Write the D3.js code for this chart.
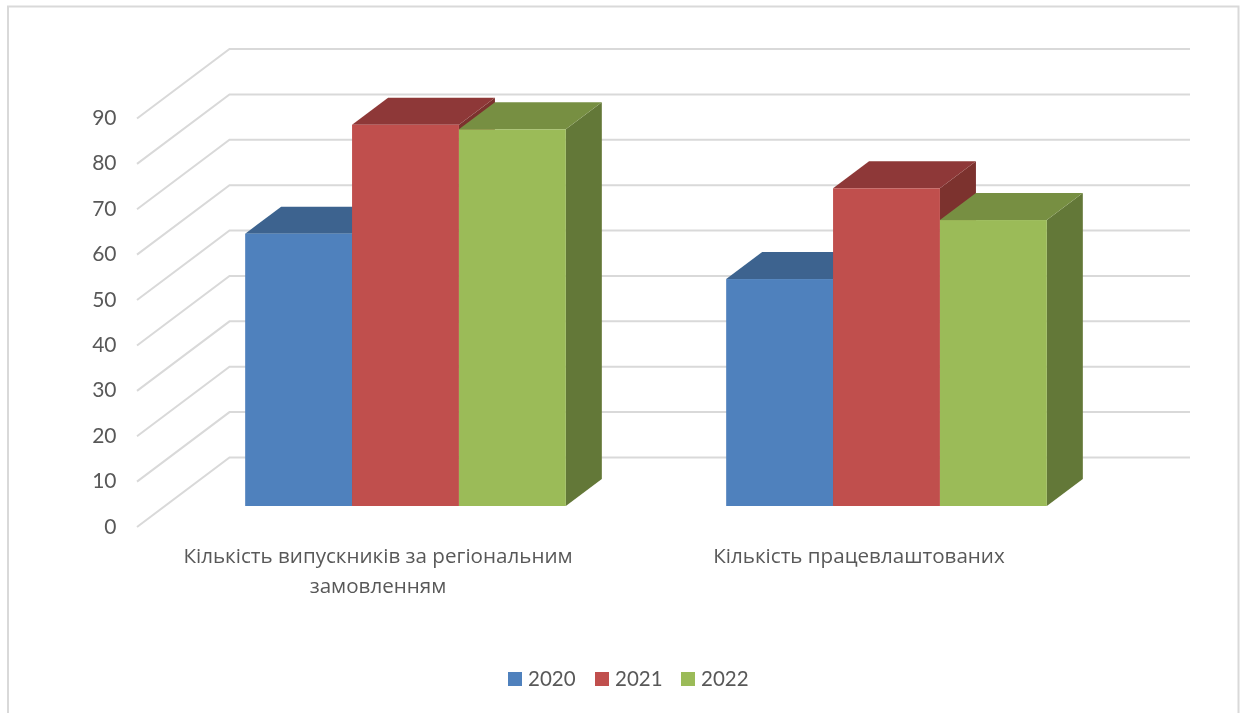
<!DOCTYPE html>
<html>
<head>
<meta charset="utf-8">
<script src="https://cdn.jsdelivr.net/npm/d3@7"></script>
<style>
  html, body { margin: 0; background: #fff; }
  text { font-family: Lato, "Open Sans", sans-serif; fill: #595959; }
  text.cat { font-family: "Open Sans", sans-serif; }
</style>
</head>
<body>
<svg id="chart" width="1240" height="713"></svg>
<script>
const categories = [
  ["Кількість випускників за регіональним", "замовленням"],
  ["Кількість працевлаштованих"]
];
const seriesNames = ["2020", "2021", "2022"];
const values2020 = [60, 50];
const values2021 = [84, 70];
const values2022 = [83, 63];
const yTicks = [0, 10, 20, 30, 40, 50, 60, 70, 80, 90];

const frontColors = ["#4f81bd", "#c0504d", "#9bbb59"];
const topColors = ["#3c648f", "#8e3937", "#778f43"];
const sideColors = ["#335579", "#7c312f", "#647837"];

const root = d3.select("#chart");

// the reference is a slightly soft screenshot
root.append("defs").append("filter")
  .attr("id", "soft")
  .attr("x", 0).attr("y", 0).attr("width", 1240).attr("height", 713)
  .attr("filterUnits", "userSpaceOnUse")
  .append("feGaussianBlur").attr("stdDeviation", 0.5);

const svg = root.append("g").attr("filter", "url(#soft)");

// chart frame, bottom edge is cut off in the picture
svg.append("path")
  .attr("d", "M8 713V6.5H1238.5V713")
  .attr("fill", "none")
  .attr("stroke", "#d9d9d9")
  .attr("stroke-width", 2);

// front plane of the 3d box, back plane is shifted by wallX / wallY
const wallX = 92.5, wallY = -69.5;
const barDepthX = 36, barDepthY = -27;
const barOffsetX = 28, barOffsetY = -21;

const y = d3.scaleLinear().domain([0, 90]).range([527, 118.5]);
const x = d3.scaleBand().domain(d3.range(categories.length)).range([137, 1099]);
const inner = d3.scaleBand().domain(d3.range(seriesNames.length))
  .range([0, x.bandwidth()]).paddingOuter(0.375 * 2);

// gridlines
const grid = svg.append("g").attr("fill", "none").attr("stroke", "#d9d9d9").attr("stroke-width", 2);
yTicks.forEach(t => {
  grid.append("path").attr("d",
    "M" + 137 + " " + y(t) + "L" + (137 + wallX) + " " + (y(t) + wallY) + "L1190 " + (y(t) + wallY));
});

// y labels
svg.append("g").selectAll("text").data(yTicks).enter().append("text")
  .attr("x", 116.5)
  .attr("y", d => y(d) + 6.5)
  .attr("text-anchor", "end")
  .attr("font-size", 21)
  .text(d => d);

// bars
const allValues = [values2020, values2021, values2022];
const bars = svg.append("g");
categories.forEach((c, ci) => {
  seriesNames.forEach((s, si) => {
    const x0 = x(ci) + inner(si) + barOffsetX;
    const x1 = x0 + inner.bandwidth();
    const yb = y(0) + barOffsetY;
    const yt = y(allValues[si][ci]) + barOffsetY;
    bars.append("path")
      .attr("fill", sideColors[si])
      .attr("d", `M${x1} ${yt}L${x1 + barDepthX} ${yt + barDepthY}L${x1 + barDepthX} ${yb + barDepthY}L${x1} ${yb}Z`);
    bars.append("path")
      .attr("fill", topColors[si])
      .attr("d", `M${x0} ${yt}L${x0 + barDepthX} ${yt + barDepthY}L${x1 + barDepthX} ${yt + barDepthY}L${x1} ${yt}Z`);
    bars.append("rect")
      .attr("x", x0).attr("y", yt)
      .attr("width", x1 - x0).attr("height", yb - yt)
      .attr("fill", frontColors[si]);
  });
});

// category labels
categories.forEach((lines, ci) => {
  lines.forEach((line, li) => {
    svg.append("text")
      .attr("class", "cat")
      .attr("x", x(ci) + x.bandwidth() / 2 + 0.5)
      .attr("y", 563 + li * 30)
      .attr("text-anchor", "middle")
      .attr("font-size", 20.6)
      .text(line);
  });
});

// legend
const legendX = [508, 595, 681];
seriesNames.forEach((s, i) => {
  svg.append("rect")
    .attr("x", legendX[i]).attr("y", 672)
    .attr("width", 14).attr("height", 14)
    .attr("fill", frontColors[i]);
  svg.append("text")
    .attr("x", legendX[i] + 20).attr("y", 686)
    .attr("font-size", 20.5)
    .text(s);
});
</script>
</body>
</html>
